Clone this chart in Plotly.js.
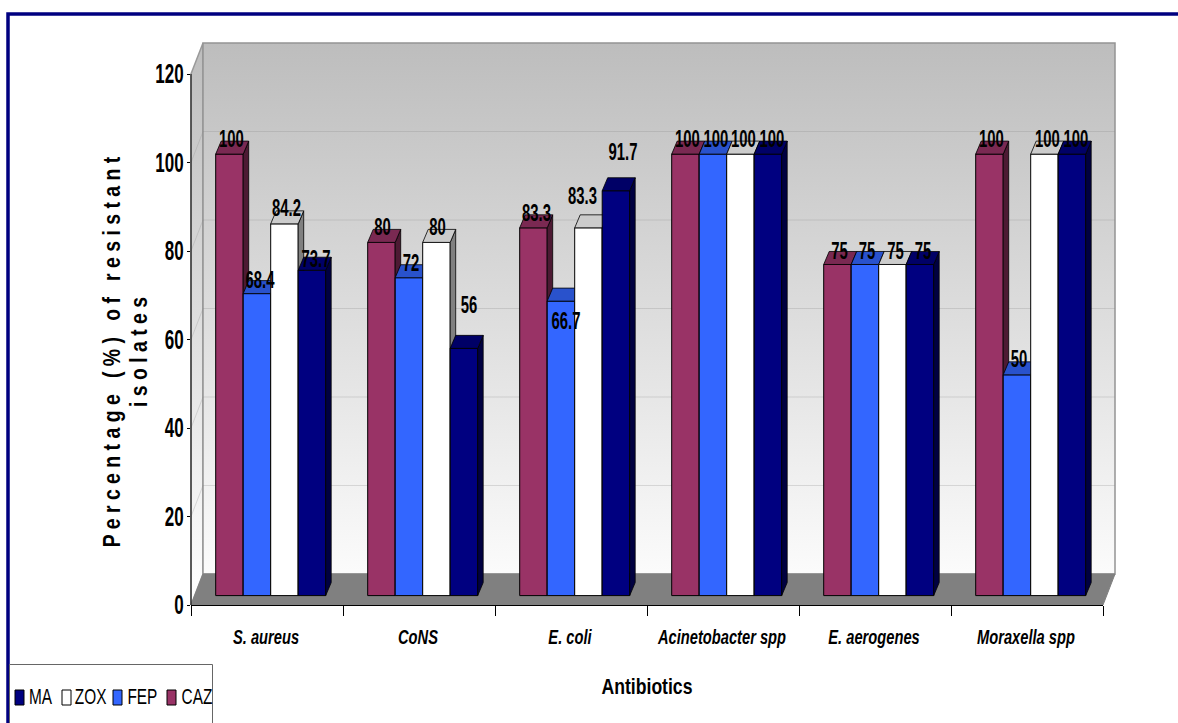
<!DOCTYPE html>
<html><head><meta charset="utf-8">
<script src="https://cdn.plot.ly/plotly-3.0.1.min.js"></script>
<style>html,body{margin:0;padding:0;background:#fff;overflow:hidden}</style>
</head><body><div id="chart" style="width:1178px;height:723px"></div>
<script>
// ---- data ----
const categories = ['S. aureus','CoNS','E. coli','Acinetobacter spp','E. aerogenes','Moraxella spp'];
const seriesNames = ['CAZ','FEP','ZOX','MA'];
const CAZ = [100,80,83.3,100,75,100];
const FEP = [68.4,72,66.7,100,75,50];
const ZOX = [84.2,80,83.3,100,75,100];
const MA  = [73.7,56,91.7,100,75,100];
const yTicks = [0,20,40,60,80,100,120];

// ---- styles ----
const frontColors = ['#993366','#3366FF','#FFFFFF','#000080'];
const topColors   = ['#7A2952','#2952CC','#CCCCCC','#000066'];
const sideColors  = ['#4D1A33','#1A3380','#808080','#000040'];
// label nudges in pixels (right, up) from the centre of each bar's top edge
const labelRight = [[2,1,3,2,2,2],[3,2,5,3,2,2],[2,1,-6,3,3,3],[4,5,7,4,3,4]];
const labelUp = [[13,13,13,13,11,13],[12,13,-22,13,11,14],[14,13,30,13,11,13],[9,41,37,13,11,13]];
const W = 1178, H = 723;
const fx = p => p / W, fy = p => 1 - p / H;
const CAT = 152;            // pixels per category
const AXY = 531 / 120;      // pixels per unit, axis plane
const BARY = 441.4 / 100;   // pixels per unit, bar plane
const WALLX = 12 / CAT, WALLY = 31 / AXY;       // depth of the chart box
const BARDX = 5.5 / CAT, BARDY = 13 / BARY;     // depth of a bar
const BARW = 27.5 / CAT;
const LEFT = -0.5, RIGHT = 5.5, TOP = 120;
const FONT = '"Liberation Sans",Arial,sans-serif';

const allSeries = [CAZ, FEP, ZOX, MA];
const traces = [];

// ---- wall subplot: box, floor, gridlines, vertical axis line ----
const wallGrad = {type:'vertical', colorscale:[[0,'#FFFFFF'],[1,'#BDBDBD']], start:0, stop:TOP+WALLY};
traces.push({type:'scatter',mode:'lines',xaxis:'x',yaxis:'y',hoverinfo:'skip',showlegend:false,
  x:[LEFT,LEFT+WALLX,LEFT+WALLX,LEFT,LEFT], y:[0,WALLY,TOP+WALLY,TOP,0],
  fill:'toself',fillgradient:wallGrad,line:{color:'#9A9A9A',width:1.5}});
traces.push({type:'scatter',mode:'lines',xaxis:'x',yaxis:'y',hoverinfo:'skip',showlegend:false,
  x:[LEFT+WALLX,RIGHT+WALLX,RIGHT+WALLX,LEFT+WALLX,LEFT+WALLX], y:[WALLY,WALLY,TOP+WALLY,TOP+WALLY,WALLY],
  fill:'toself',fillgradient:wallGrad,line:{color:'#949494',width:1.5}});
yTicks.filter(v => v > 0 && v < TOP).forEach(v => traces.push({type:'scatter',mode:'lines',xaxis:'x',yaxis:'y',
  hoverinfo:'skip',showlegend:false,x:[LEFT,LEFT+WALLX,RIGHT+WALLX],y:[v,v+WALLY,v+WALLY],
  line:{color:'rgba(140,140,140,0.28)',width:1}}));
traces.push({type:'scatter',mode:'lines',xaxis:'x',yaxis:'y',hoverinfo:'skip',showlegend:false,
  x:[LEFT,LEFT+WALLX,RIGHT+WALLX,RIGHT,LEFT],y:[0,WALLY,WALLY,0,0],fill:'toself',fillcolor:'#808080',
  line:{color:'#808080',width:1}});
traces.push({type:'scatter',mode:'lines',xaxis:'x',yaxis:'y',hoverinfo:'skip',showlegend:false,
  x:[LEFT,LEFT],y:[0,TOP],line:{color:'#000000',width:1}});
// axes subplot carries ticks only
traces.push({type:'scatter',mode:'none',xaxis:'x2',yaxis:'y2',hoverinfo:'skip',showlegend:false,x:[0],y:[0]});

// ---- one subplot per series so later fronts hide earlier sides ----
allSeries.forEach((vals, s) => {
  const n = s + 3;
  const xa = 'x' + n, ya = 'y' + n;
  const off = -2 * BARW + s * BARW;
  traces.push({type:'bar',name:seriesNames[s],xaxis:xa,yaxis:ya,x:categories.map((c,i)=>i),y:vals,
    width:BARW,offset:off,marker:{color:frontColors[s],line:{color:'#000000',width:1}},showlegend:false,
    textposition:'none',hovertemplate:seriesNames[s]+': %{y}<extra></extra>'});
  const sx=[],sy=[],tx=[],ty=[];
  vals.forEach((v,i) => {
    const l=i+off, r=l+BARW;
    sx.push(r,r+BARDX,r+BARDX,r,r,null); sy.push(0,BARDY,v+BARDY,v,0,null);
    tx.push(l,l+BARDX,r+BARDX,r,l,null); ty.push(v,v+BARDY,v+BARDY,v,v,null);
  });
  traces.push({type:'scatter',mode:'lines',xaxis:xa,yaxis:ya,x:sx,y:sy,fill:'toself',fillcolor:sideColors[s],
    line:{color:'#000000',width:0.8},hoverinfo:'skip',showlegend:false});
  traces.push({type:'scatter',mode:'lines',xaxis:xa,yaxis:ya,x:tx,y:ty,fill:'toself',fillcolor:topColors[s],
    line:{color:'#000000',width:0.8},hoverinfo:'skip',showlegend:false});
});
// data labels on top of everything
allSeries.forEach((vals, s) => {
  const off = -2 * BARW + s * BARW + BARW / 2;
  traces.push({type:'scatter',mode:'text',xaxis:'x6',yaxis:'y6',hoverinfo:'skip',showlegend:false,
    x:vals.map((v,i)=>i+off+labelRight[s][i]/CAT), y:vals.map((v,i)=>v+labelUp[s][i]/BARY),
    text:vals.map(String),textposition:'middle center',cliponaxis:false,
    textfont:{family:FONT,size:24,color:'#000000',weight:'bold'}});
});

const hidden = (o) => Object.assign({visible:false,fixedrange:true},o);
const layout = {
  width:W,height:H,margin:{l:0,r:0,t:0,b:0},paper_bgcolor:'#FFFFFF',plot_bgcolor:'rgba(0,0,0,0)',showlegend:false,
  hovermode:'closest',
  xaxis:hidden({domain:[fx(188),fx(1118)],range:[LEFT-3/CAT,RIGHT+15/CAT],anchor:'y'}),
  yaxis:hidden({domain:[fy(608),fy(40)],range:[-3/AXY,TOP+34/AXY],anchor:'x'}),
  xaxis2:{domain:[fx(191),fx(1103)],range:[LEFT,RIGHT],anchor:'free',position:fy(605),fixedrange:true,
    showline:true,linecolor:'#000000',linewidth:1,showgrid:false,zeroline:false,
    tickmode:'array',tickvals:categories.map((c,i)=>i),ticktext:categories,ticks:'',tickangle:0,
    ticklabelstandoff:13,
    tickfont:{family:FONT,size:21,color:'#000000',weight:'bold',style:'italic'},
    minor:{tickmode:'array',tickvals:categories.map((c,i)=>i-0.5).concat([RIGHT]),ticks:'outside',ticklen:10,tickcolor:'#000000',tickwidth:1,showgrid:false},
    title:{text:'Antibiotics',standoff:31,font:{family:FONT,size:22,color:'#000000',weight:'bold'}}},
  yaxis2:{domain:[fy(626),fy(74)],range:[-21/AXY,TOP],anchor:'x2',fixedrange:true,showline:false,showgrid:false,zeroline:false,
    tickmode:'array',tickvals:yTicks,ticks:'outside',ticklen:3,tickcolor:'#000000',tickwidth:1,
    tickfont:{family:FONT,size:27,color:'#000000',weight:'bold'},
    title:{text:'P e r c e n t a g e   ( % )   o f   r e s i s t a n t<br>i s o l a t e s',standoff:0,
      font:{family:FONT,size:24,color:'#000000',weight:'bold'}}},
  annotations:[], shapes:[]
};
[3,4,5,6].forEach(n => {
  layout['xaxis'+n] = hidden({domain:[fx(194.7),fx(1106.7)],range:[LEFT,RIGHT],anchor:'y'+n});
  layout['yaxis'+n] = hidden({domain:[fy(600),fy(65.8)],range:[-4.4/BARY,TOP],anchor:'x'+n});
});
// frame
layout.shapes.push({type:'rect',xref:'paper',yref:'paper',x0:fx(8),x1:fx(1200),y0:fy(14),y1:fy(760),
  line:{color:'#000080',width:3.5},fillcolor:'rgba(0,0,0,0)',layer:'below'});
// legend box
layout.shapes.push({type:'rect',xref:'paper',yref:'paper',x0:fx(9.5),x1:fx(212.5),y0:fy(664.5),y1:fy(760),
  line:{color:'#666666',width:1},fillcolor:'#FFFFFF',layer:'above'});
const legendOrder = [3,2,1,0], swatchX = [15,62,113,167], textCx = [40.5,91,142.5,197];
legendOrder.forEach((s,k) => {
  layout.shapes.push({type:'rect',xref:'paper',yref:'paper',x0:fx(swatchX[k]),x1:fx(swatchX[k]+9),y0:fy(690),y1:fy(705),
    line:{color:'#000000',width:1},fillcolor:frontColors[s],layer:'above'});
  layout.annotations.push({xref:'paper',yref:'paper',x:fx(textCx[k]),y:fy(696),xanchor:'center',yanchor:'middle',showarrow:false,
    text:seriesNames[s],borderpad:0,font:{family:FONT,size:22,color:'#000000'}});
});

// The reference uses horizontally squeezed type: narrow each text about its own anchor.
function squeeze(gd, selector, k, shiftX, shiftY) {
  gd.querySelectorAll(selector).forEach(el => {
    const x = el.getAttribute('x') || 0, y = el.getAttribute('y') || 0;
    const old = el.getAttribute('transform') || '';
    const before = (shiftX || shiftY) ? `translate(${shiftX||0},${shiftY||0}) ` : '';
    el.setAttribute('transform', `${before}${old} translate(${x},${y}) scale(${k},1) translate(${-x},${-y})`);
  });
}
Plotly.newPlot('chart',traces,layout,{displayModeBar:false,responsive:false}).then(gd => {
  squeeze(gd,'.textpoint text',0.62);
  squeeze(gd,'.x2tick text',0.7,-1,0);
  squeeze(gd,'.y2tick text',0.63,2,0);
  squeeze(gd,'.x2title',0.8);
  squeeze(gd,'.y2title',0.81,23,2);
  const lines = gd.querySelectorAll('.y2title tspan.line');
  if (lines[1]) lines[1].setAttribute('dy','1.1em');
  squeeze(gd,'.annotation-text',0.7);
});
</script></body></html>
